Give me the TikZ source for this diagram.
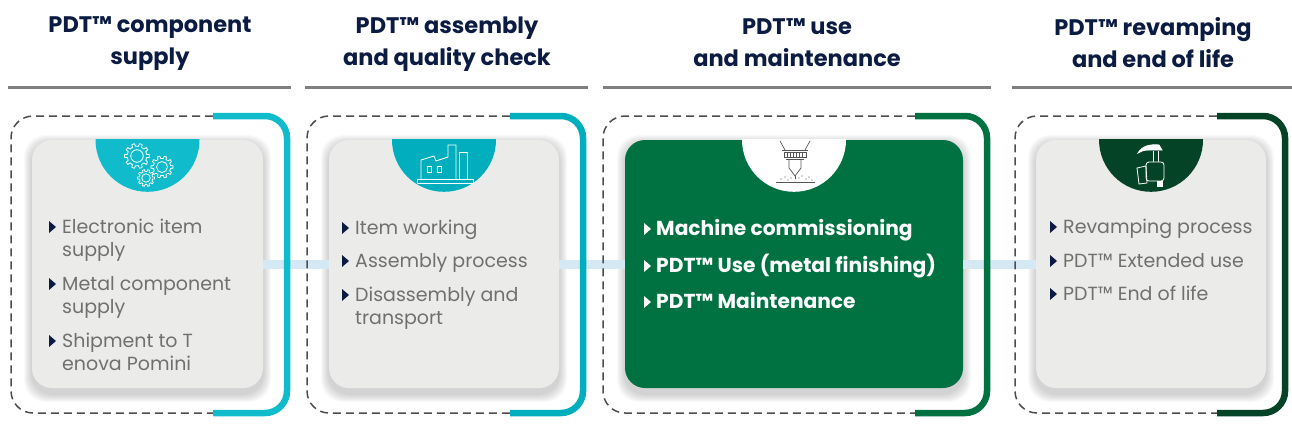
\documentclass[tikz,border=0pt]{standalone}
\usepackage{fontspec}
\setmainfont{Poppins}
\usetikzlibrary{positioning}

\definecolor{tealA}{HTML}{10BCCB}
\definecolor{tealB}{HTML}{00AEBE}
\definecolor{grn}{HTML}{007140}
\definecolor{dkgrn}{HTML}{044325}
\definecolor{cardg}{HTML}{EBEBEA}
\definecolor{txtg}{HTML}{707070}
\definecolor{navy}{HTML}{0B1B42}
\definecolor{ruleg}{HTML}{7F7F7F}
\definecolor{dashg}{HTML}{4D4D4D}
\definecolor{lblue}{HTML}{D5E9F5}
\definecolor{icong}{HTML}{555555}

\tikzset{
  head/.style={font=\bfseries\fontsize{22.5}{32}\selectfont, text=navy, align=center},
  rule/.style={draw=ruleg, line width=3pt},
  card/.style={rounded corners=20pt, minimum height=248pt, fill=cardg, inner sep=0pt},
  item/.style={anchor=base west, inner sep=0pt, text=txtg, font=\fontsize{19}{23}\selectfont},
  itemw/.style={item, text=white, font=\bfseries\fontsize{20.2}{23}\selectfont},
  frame/.style={draw=dashg, line width=1.5pt, dash pattern=on 8pt off 5pt, rounded corners=22pt},
  bracket/.style={line width=6.5pt, rounded corners=22pt},
  conn/.style={draw=lblue, line width=9pt},
  ico/.style={draw=white, line width=0.8pt},
  laser/.style={draw=icong, line width=0.7pt},
  bul/.pic={\fill (0,0) -- (0,-12) -- (7,-6) -- cycle;},
  gear/.pic={
    \draw[ico] ({-10}:{0.78*#1}) \foreach \a in {0,36,...,324}{
      -- ({\a-10}:{0.78*#1}) -- ({\a-6}:{#1}) -- ({\a+6}:{#1}) -- ({\a+10}:{0.78*#1})} -- cycle;
    \draw[ico] (0,0) circle[radius=0.5*#1];
  }
}

\begin{document}
\begin{tikzpicture}[x=1pt, y=-1pt]
  \useasboundingbox (0,0) rectangle (1292,439);

  % headers
  \node[head] (h1) at (150,44) {PDT™ component\\supply};
  \node[head] (h2) at (447,44) {PDT™ assembly\\and quality check};
  \node[head] (h3) at (797,43) {PDT™ use\\and maintenance};
  \node[head] (h4) at (1153,43) {PDT™ revamping\\and end of life};
  \foreach \a/\b in {8/291, 305/588, 603/991, 1012/1292}
    \draw[rule] (\a,87) -- (\b,87);

  % soft shadows under the cards
  \foreach \cx/\w in {147.5/231, 444/230, 794/338, 1151/230}
    \foreach \i in {1,...,8}
      \fill[black, opacity=0.025, rounded corners=22pt]
        (\cx-\w/2-\i, 143-\i) rectangle (\cx+\w/2+\i, 394+\i);

  % cards
  \node[card, minimum width=231pt] (c1) at (147.5,264) {};
  \node[card, minimum width=230pt] (c2) at (444,264) {};
  \node[card, minimum width=338pt, fill=grn] (c3) at (794,264) {};
  \node[card, minimum width=230pt] (c4) at (1151,264) {};

  \foreach \c/\col in {c1/tealA, c2/tealB, c3/white, c4/dkgrn} {
    \begin{scope}
      \clip (\c.north west) rectangle (\c.east);
      \fill[\col] (\c.north) circle[radius=52pt];
    \end{scope}
  }

  % connectors
  \draw[conn] (c1.east) -- (c2.west);
  \draw[conn] (c2.east) -- (c3.west);
  \draw[conn] (c3.east) -- (c4.west);

  % frames
  \foreach \l/\m/\r/\col in {11/213/287/tealA, 307/510/583/tealB, 603/915/987/grn, 1015/1217/1285/dkgrn} {
    \draw[frame] (\m,116) -- (\l,116) -- (\l,413) -- (\m,413);
    \draw[bracket, \col] (\m,116) -- (\r,116) -- (\r,413) -- (\m,413);
  }

  % icons
  \pic at (137,156) {gear=12.5};
  \pic at (162,167) {gear=11};
  \pic at (146,178) {gear=8.5};

  \draw[ico] (421,179) -- (421,160) -- (434,156) -- (436,161) -- (448,157) -- (448,145)
    -- (456,145) -- (456,179);
  \draw[ico] (459,179) -- (459,152) -- (467,152) -- (467,179);
  \draw[ico] (417,179) rectangle (473,183);
  \draw[ico] (427,166) rectangle (431,172);
  \draw[ico] (437,166) rectangle (441,172);

  \draw[laser] (780,141) -- (785,150) (810,141) -- (805,150);
  \draw[laser] (782,150) -- (808,150);
  \draw[laser] (784,152) rectangle (806,157);
  \foreach \x in {787,790,...,803}
    \draw[laser] (\x,152) -- (\x,157);
  \draw[laser] (786,159) -- (804,159);
  \draw[laser] (789,160) -- (789,168) -- (795,176) -- (801,168) -- (801,160);
  \draw[laser] (795,176) -- (795,179);
  \draw[laser] (776,182) -- (815,182);
  \foreach \x/\y in {781/179, 785/177, 788/180, 791/178, 799/178, 802/176, 806/179, 809/177, 812/180}
    \fill[icong] (\x,\y) circle[radius=0.7pt];

  \draw[ico, fill=white] (1138,153) .. controls (1142,146) and (1150,144) .. (1159,145)
    -- (1162,150) -- (1149,150) .. controls (1144,150) and (1141,151) .. (1138,153) -- cycle;
  \draw[ico] (1153,151) -- (1153,162) (1158,151) -- (1158,162);
  \draw[ico, rounded corners=3pt] (1146,162) rectangle (1164,181);
  \draw[ico] (1137,168) -- (1146,166) -- (1147,183) -- (1139,184) -- cycle;
  \draw[ico, fill=white] (1157,181) rectangle (1162,186);

  % items
  \node[item] (a1) at (62,233) {Electronic item};
  \node[item] (a1b) at (62,256) {supply};
  \node[item] (a2) at (62,290) {Metal component};
  \node[item] (a2b) at (62,313) {supply};
  \node[item] (a3) at (62,347) {Shipment to T};
  \node[item] (a3b) at (62,370) {enova Pomini};

  \node[item] (b1) at (355,234) {Item working};
  \node[item] (b2) at (355,267) {Assembly process};
  \node[item] (b3) at (355,301) {Disassembly and};
  \node[item] (b3b) at (355,324) {transport};

  \node[itemw] (m1) at (656,235) {Machine commissioning};
  \node[itemw] (m2) at (656,272) {PDT™ Use (metal finishing)};
  \node[itemw] (m3) at (656,308) {PDT™ Maintenance};

  \node[item] (r1) at (1063,233) {Revamping process};
  \node[item] (r2) at (1063,267) {PDT™ Extended use};
  \node[item] (r3) at (1063,300) {PDT™ End of life};

  \foreach \n in {a1,a2,a3,b1,b2,b3,r1,r2,r3}
    \pic[navy] at ([xshift=-13pt]\n.base west) {bul};
  \foreach \n in {m1,m2,m3}
    \pic[white] at ([xshift=-12pt]\n.base west) {bul};
\end{tikzpicture}
\end{document}
